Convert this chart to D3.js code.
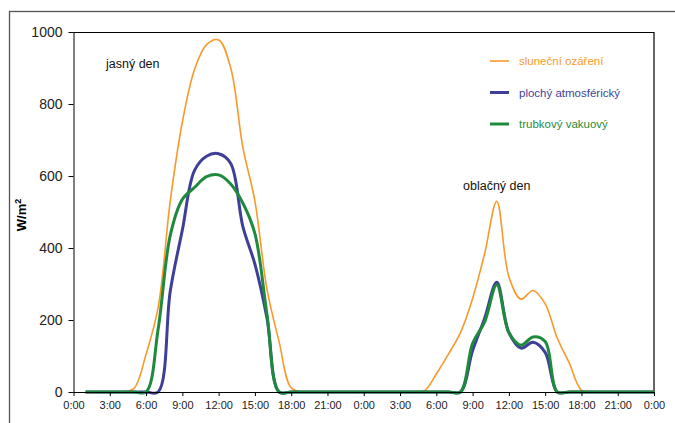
<!DOCTYPE html>
<html>
<head>
<meta charset="utf-8">
<script src="https://cdn.jsdelivr.net/npm/d3@7"></script>
<style>
  body { margin: 0; background: #fff; }
  svg { display: block; }
  .axis path, .axis line { stroke: #000; }
  .axis text { fill: #222; font-family: "Liberation Sans Narrow", "Liberation Sans", Arial, sans-serif; }
  .note { font-family: "Liberation Sans", Arial, sans-serif; font-size: 12.5px; fill: #111; }
  .legend text { font-family: "Liberation Sans", Arial, sans-serif; font-size: 11.5px; }
</style>
</head>
<body>
<svg id="chart" width="675" height="423"></svg>
<script>
// hours from the start of the first day
const hours = d3.range(1, 49);

// sluneční ozáření (W/m2)
const irradiance = [
  0, 0, 0, 0, 10, 105, 235, 530, 750, 895, 965, 978, 900, 680, 530, 285, 140, 12,
  0, 0, 0, 0, 0, 0, 0, 0, 0, 0, 3, 50, 105, 165, 260, 385, 530, 320, 258, 282,
  245, 150, 80, 5, 0, 0, 0, 0, 0, 0
];

// plochý atmosférický
const flatPanel = [
  0, 0, 0, 0, 0, 0, 0, 280, 450, 615, 655, 662, 635, 460, 355, 205, 0, 0,
  0, 0, 0, 0, 0, 0, 0, 0, 0, 0, 0, 0, 0, 0, 115, 205, 305, 165, 122, 138,
  110, 0, 0, 0, 0, 0, 0, 0, 0, 0
];

// trubkový vakuový
const tubePanel = [
  0, 0, 0, 0, 0, 0, 175, 435, 535, 568, 598, 603, 578, 525, 440, 215, 0, 0,
  0, 0, 0, 0, 0, 0, 0, 0, 0, 0, 0, 0, 0, 0, 135, 195, 298, 165, 130, 153,
  140, 0, 0, 0, 0, 0, 0, 0, 0, 0
];

const seriesNames = ['sluneční ozáření', 'plochý atmosférický', 'trubkový vakuový'];
const seriesColors = ['#f7992b', '#3d3f98', '#1f8a3d'];
const seriesWidths = [1.6, 3, 3];

const tickHours = d3.range(0, 49, 3);
const tickLabels = ['0:00', '3:00', '6:00', '9:00', '12:00', '15:00', '18:00', '21:00',
  '0:00', '3:00', '6:00', '9:00', '12:00', '15:00', '18:00', '21:00', '0:00'];
const yTicks = [0, 200, 400, 600, 800, 1000];

const margin = { top: 32, left: 73.5, right: 21, bottom: 31 };
const svg = d3.select('#chart');
const width = 675 - margin.left - margin.right;
const height = 423 - margin.top - margin.bottom;

// outer frame (runs off the right and bottom edge)
svg.append('rect')
  .attr('x', 9.5).attr('y', 11.5)
  .attr('width', 700).attr('height', 440)
  .attr('fill', 'none')
  .attr('stroke', '#555')
  .attr('stroke-width', 1.3);

const chart = svg.append('g')
  .attr('transform', `translate(${margin.left},${margin.top})`);

const xScale = d3.scaleLinear().domain([0, 48]).range([0, width]);
const yScale = d3.scaleLinear().domain([0, 1000]).range([height, 0]);

// plot box top and right edges
chart.append('path')
  .attr('d', `M0,0.5H${width}V${height}`)
  .attr('fill', 'none')
  .attr('stroke', '#000')
  .attr('stroke-width', 1.2);

const yAxis = d3.axisLeft(yScale)
  .tickValues(yTicks)
  .tickFormat(d3.format('d'))
  .tickSize(5)
  .tickPadding(6)
  .tickSizeOuter(0);

const xAxis = d3.axisBottom(xScale)
  .tickValues(tickHours)
  .tickFormat((d, i) => tickLabels[i])
  .tickSize(4)
  .tickPadding(5)
  .tickSizeOuter(0);

chart.append('g')
  .attr('class', 'axis y-axis')
  .call(yAxis)
  .call(g => g.selectAll('text').attr('font-size', 14));

const lineGen = d3.line()
  .x((d, i) => xScale(hours[i]))
  .y(d => yScale(d))
  .curve(d3.curveCatmullRom.alpha(0.5));

[irradiance, flatPanel, tubePanel].forEach((values, k) => {
  chart.append('path')
    .datum(values)
    .attr('fill', 'none')
    .attr('stroke', seriesColors[k])
    .attr('stroke-width', seriesWidths[k])
    .attr('stroke-linejoin', 'round')
    .attr('d', lineGen);
});

chart.append('g')
  .attr('class', 'axis x-axis')
  .attr('transform', `translate(0,${height})`)
  .call(xAxis)
  .call(g => g.selectAll('text').attr('font-size', 11));

// y axis title
svg.append('text')
  .attr('transform', 'translate(26,215) rotate(-90)')
  .attr('text-anchor', 'middle')
  .attr('font-family', 'Liberation Sans, Arial, sans-serif')
  .attr('font-weight', 'bold')
  .attr('font-size', 13)
  .attr('fill', '#000')
  .call(t => {
    t.append('tspan').text('W/m');
    t.append('tspan').attr('baseline-shift', 'super').attr('font-size', 9).text('2');
  });

// day annotations
chart.append('text').attr('class', 'note')
  .attr('x', 106 - margin.left).attr('y', 68 - margin.top)
  .text('jasný den');
chart.append('text').attr('class', 'note')
  .attr('x', 463 - margin.left).attr('y', 190 - margin.top)
  .text('oblačný den');

// legend
const legend = svg.append('g').attr('class', 'legend');
seriesNames.forEach((name, k) => {
  const y = 61 + k * 31.5;
  legend.append('line')
    .attr('x1', 490).attr('x2', 509)
    .attr('y1', y).attr('y2', y)
    .attr('stroke', seriesColors[k])
    .attr('stroke-width', seriesWidths[k]);
  legend.append('text')
    .attr('x', 519).attr('y', y + 4)
    .attr('fill', seriesColors[k])
    .text(name);
});
</script>
</body>
</html>
